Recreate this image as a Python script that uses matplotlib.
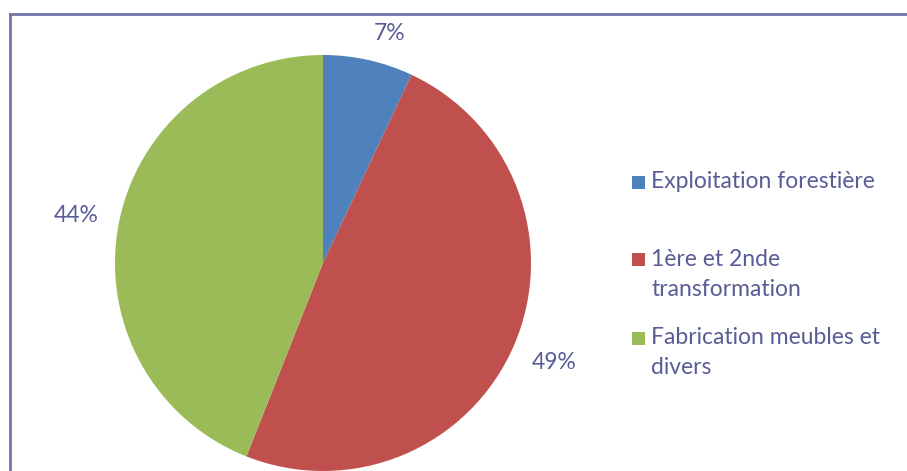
import matplotlib.pyplot as plt
from matplotlib.patches import Rectangle
from matplotlib.lines import Line2D

categories = ["Exploitation forestière", "1ère et 2nde\ntransformation", "Fabrication meubles et\ndivers"]
shares = [7, 49, 44]
colors = ["#4f81bd", "#c0504d", "#9bbb59"]

text_color = "#5a5c96"
plt.rcParams["font.family"] = ["Lato", "DejaVu Sans"]

W, H = 907, 471
fig = plt.figure(figsize=(W / 100, H / 100), dpi=100)
ax = fig.add_axes([0, 0, 1, 1])
ax.set_xlim(0, W)
ax.set_ylim(0, H)
ax.set_aspect("equal")

wedges, texts, autotexts = ax.pie(
    shares,
    colors=colors,
    startangle=90,
    counterclock=False,
    center=(323, H - 263),
    radius=208,
    autopct="%d%%",
    pctdistance=1.21,
    textprops=dict(color=text_color, fontsize=16.5),
    wedgeprops=dict(linewidth=0),
    frame=True,
)
ax.axis("off")
# Excel "best fit" puts the small slice label slightly lower/right
x, y = autotexts[0].get_position()
autotexts[0].set_position((x + 12, y - 16))

# chart frame (only top and left edges are in view)
fig.add_artist(Line2D([9.5 / W, 9.5 / W], [0, 1 - 13.5 / H], color="#7474aa", linewidth=2))
fig.add_artist(Line2D([9.5 / W, 1], [1 - 13.5 / H, 1 - 13.5 / H], color="#7474aa", linewidth=2))

# legend, drawn by hand to match Excel's layout
legend_y = [182, 259, 338]
line_step = 30
for cat, col, ly in zip(categories, colors, legend_y):
    ax.add_patch(Rectangle((632, H - ly - 7), 13, 13, color=col, linewidth=0))
    for i, line in enumerate(cat.split("\n")):
        ax.text(651, H - ly - i * line_step, line, color=text_color, fontsize=16.5,
                va="center", ha="left")

fig.savefig("out.png", dpi=100)
